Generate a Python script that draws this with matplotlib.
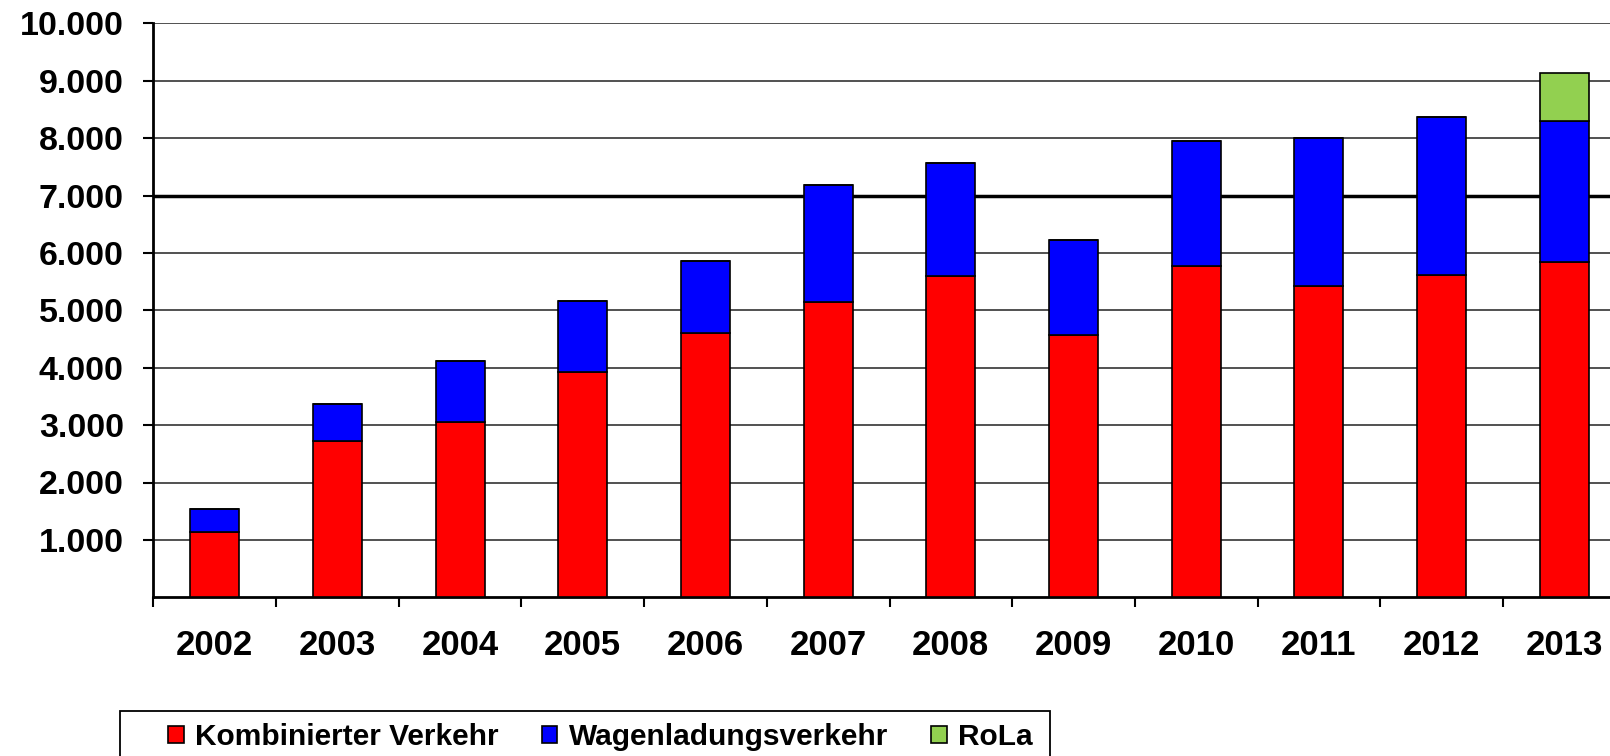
import matplotlib
matplotlib.use("Agg")
import matplotlib.pyplot as plt
import numpy as np
from matplotlib.ticker import FixedLocator, FuncFormatter
from matplotlib.patches import Rectangle

years = ["2002", "2003", "2004", "2005", "2006", "2007", "2008", "2009", "2010", "2011", "2012", "2013"]
kombinierter = [1140, 2720, 3060, 3920, 4600, 5140, 5590, 4570, 5770, 5430, 5620, 5840]
wagenladung = [400, 650, 1060, 1240, 1260, 2045, 1970, 1650, 2185, 2580, 2740, 2450]
rola = [0, 0, 0, 0, 0, 0, 0, 0, 0, 0, 0, 850]

labels = ["Kombinierter Verkehr", "Wagenladungsverkehr", "RoLa"]
colors = ["#FF0000", "#0000FF", "#92D050"]
yticks = [1000, 2000, 3000, 4000, 5000, 6000, 7000, 8000, 9000, 10000]

plt.rcParams['font.family'] = ['Liberation Sans', 'DejaVu Sans']
plt.rcParams['font.weight'] = 'bold'

W, H = 1610, 756
fig = plt.figure(figsize=(W / 100, H / 100), dpi=100)
left = 153.3 / W
bottom = 1 - 597.3 / H
top = 1 - 23.3 / H
cat_w = 122.7 / W
ax = fig.add_axes([left, bottom, cat_w * 12, top - bottom])

x = np.arange(len(years))
bw = 0.4
k = np.array(kombinierter)
w = np.array(wagenladung)
r = np.array(rola)
ax.bar(x, k, bw, color=colors[0], edgecolor='black', linewidth=1.2, label=labels[0], zorder=3)
ax.bar(x, w, bw, bottom=k, color=colors[1], edgecolor='black', linewidth=1.2, label=labels[1], zorder=3)
ax.bar(x, r, bw, bottom=k + w, color=colors[2], edgecolor='black', linewidth=1.2, label=labels[2], zorder=3)

ax.set_xlim(-0.5, len(years) - 0.5)
ax.set_ylim(0, 10000)
ax.yaxis.set_major_locator(FixedLocator(yticks))
ax.yaxis.set_major_formatter(FuncFormatter(lambda v, p: f"{int(v):,}".replace(",", ".")))
ax.set_xticks(x)
ax.set_xticklabels(years)
ax.set_xticks(np.arange(-0.5, len(years), 1.0), minor=True)

ax.tick_params(axis='x', which='major', length=0, pad=23, labelsize=25)
ax.tick_params(axis='x', which='minor', length=7.2, width=1.5, direction='out')
ax.tick_params(axis='y', which='major', length=7.2, width=1.5, direction='out', pad=14, labelsize=24.5)
for t in ax.get_xticklabels() + ax.get_yticklabels():
    t.set_fontweight('bold')

ax.yaxis.grid(True, color='#333333', linewidth=1.2, zorder=0)
ax.set_axisbelow(True)
gl = ax.get_ygridlines()
gl[6].set_linewidth(2.5)
gl[6].set_color('black')

for s in ['top', 'right']:
    ax.spines[s].set_visible(False)
ax.spines['left'].set_linewidth(2)
ax.spines['bottom'].set_linewidth(2)

# legend frame (extends beyond bottom of figure)
frame = Rectangle((120 / W, -0.05), (1050 - 120) / W, (1 - 710.7 / H) + 0.05,
                  transform=fig.transFigure, facecolor='white', edgecolor='black',
                  linewidth=1.3, zorder=0)
fig.patches.append(frame)

leg = fig.legend(loc='upper left', bbox_to_anchor=(168 / W, 1 - 723 / H), ncol=3, frameon=False,
                 handlelength=0.52, handleheight=0.5, handletextpad=0.38, columnspacing=1.45,
                 borderpad=0, borderaxespad=0, prop={'weight': 'bold', 'size': 21.5})

fig.savefig("out.png", dpi=100)
